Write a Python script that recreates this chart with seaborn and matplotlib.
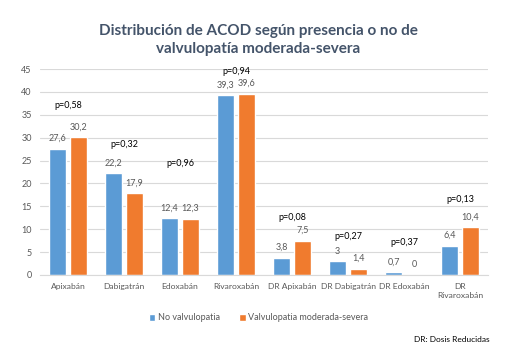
import pandas as pd
import seaborn as sns
import matplotlib.pyplot as plt

# data
categorias = ['Apixabán', 'Dabigatrán', 'Edoxabán', 'Rivaroxabán',
              'DR Apixabán', 'DR Dabigatrán', 'DR Edoxabán', 'DR\nRivaroxabán']
no_valv = [27.6, 22.2, 12.4, 39.3, 3.8, 3, 0.7, 6.4]
valv_mod_sev = [30.2, 17.9, 12.3, 39.6, 7.5, 1.4, 0, 10.4]
p_valores = ['p=0,58', 'p=0,32', 'p=0,96', 'p=0,94', 'p=0,08', 'p=0,27', 'p=0,37', 'p=0,13']
series = ['No valvulopatia', 'Valvulopatia moderada-severa']

# where the p labels sit (layout only)
p_y = [37.0, 28.4, 24.3, 44.5, 12.5, 8.4, 7.1, 16.6]

df = pd.DataFrame({
    'cat': categorias * 2,
    'valor': no_valv + valv_mod_sev,
    'grupo': [series[0]] * len(categorias) + [series[1]] * len(categorias),
})

sns.set_style('white')
plt.rcParams['font.family'] = ['Lato', 'DejaVu Sans']

fig = plt.figure(figsize=(5.17, 3.55), dpi=100)
ax = fig.add_axes([0.0774, 0.2254, 0.8666, 0.5802])

sns.barplot(data=df, x='cat', y='valor', hue='grupo',
            palette=['#5B9BD5', '#F07B2E'], saturation=1, width=0.75, gap=0.2,
            ax=ax, legend=True)

ax.set_ylim(0, 45)
ax.set_yticks(range(0, 46, 5))
ax.set_xlim(-0.5, len(categorias) - 0.5)
ax.yaxis.grid(True, color='#D9D9D9', lw=0.8)
ax.set_axisbelow(True)
for s in ['left', 'right', 'top']:
    ax.spines[s].set_visible(False)
ax.spines['bottom'].set_color('#D9D9D9')
ax.tick_params(axis='both', length=0, labelsize=6.5, colors='#595959', pad=6)
ax.tick_params(axis='x', labelsize=6.1)
ax.set_xlabel('')
ax.set_ylabel('')

for cont, vals in zip(ax.containers, [no_valv, valv_mod_sev]):
    labs = [('%g' % v).replace('.', ',') for v in vals]
    ax.bar_label(cont, labels=labs, padding=4, fontsize=6.5, color='#595959')

for i, (p, y) in enumerate(zip(p_valores, p_y)):
    ax.text(i, y, p, ha='center', va='center', fontsize=6.5, color='black')

h, l = ax.get_legend_handles_labels()
ax.get_legend().remove()
fig.legend(h, l, loc='center', bbox_to_anchor=(0.5, 1 - 318 / 355), ncol=2,
           frameon=False, fontsize=6.5, handlelength=0.7, handleheight=0.7,
           handletextpad=0.3, columnspacing=2.2, labelcolor='#595959')

fig.text(0.5, 1 - 40 / 355, 'Distribución de ACOD según presencia o no de\nvalvulopatía moderada-severa',
         ha='center', va='center', fontsize=11, fontweight='bold', color='#44546A',
         linespacing=1.45)
fig.text(490 / 517, 1 - 340 / 355, 'DR: Dosis Reducidas', ha='right', va='center',
         fontsize=6, color='black')

fig.savefig('out.png', dpi=100)
